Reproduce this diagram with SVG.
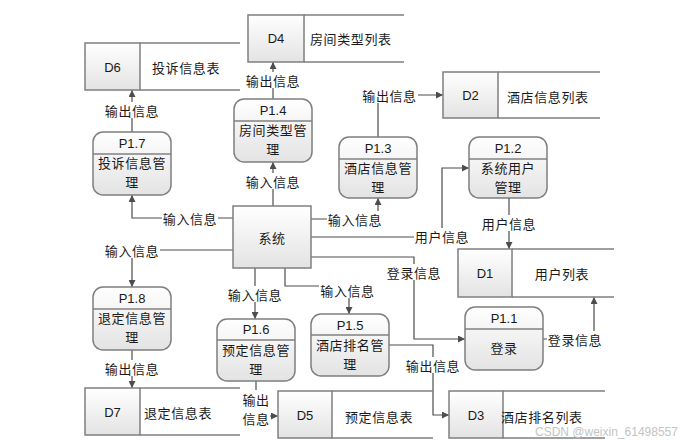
<svg xmlns="http://www.w3.org/2000/svg" width="691" height="446" viewBox="0 0 691 446">
<defs>
<linearGradient id="g" x1="0" y1="0" x2="0" y2="1"><stop offset="0" stop-color="#ffffff"/><stop offset="1" stop-color="#e3e3e3"/></linearGradient>
<marker id="ar" viewBox="0 0 10 10" refX="10" refY="5" markerWidth="7" markerHeight="7" orient="auto" markerUnits="userSpaceOnUse"><path d="M0,0 L10,5 L0,10 z" fill="#4d4d4d"/></marker>
</defs>
<style>
text{font-family:"Liberation Sans","Noto Sans CJK SC",sans-serif;font-size:13px;fill:#1a1a1a;text-anchor:middle;dominant-baseline:central}
.t{font-family:"Noto Sans CJK SC","Liberation Sans",sans-serif;font-size:13px;letter-spacing:0.6px}
.s{text-anchor:start}
.box{fill:url(#g);stroke:#7f7f7f;stroke-width:1.5}
.ln{fill:none;stroke:#808080;stroke-width:1.5}
.c{fill:none;stroke:#4d4d4d;stroke-width:1.2;marker-end:url(#ar)}
.bg{fill:#ffffff}
.wm{font-family:"Liberation Sans",sans-serif;font-size:12px;fill:#c4c4c4;text-anchor:start}
</style>
<rect width="691" height="446" fill="#ffffff"/>

<g id="connectors">
<path class="c" d="M132,132 V90"/>
<path class="c" d="M273,99 V62"/>
<path class="c" d="M378,137 V95 H443"/>
<path class="c" d="M233,218 H132 V195"/>
<path class="c" d="M273,206 V162"/>
<path class="c" d="M233,250 H132 V287"/>
<path class="c" d="M311,219 H378 V198"/>
<path class="c" d="M311,237 H442 V168 H469"/>
<path class="c" d="M509,198 V249"/>
<path class="c" d="M311,257 H414 V339 H465"/>
<path class="c" d="M255,268 V319"/>
<path class="c" d="M285,268 V286 H349 V314"/>
<path class="c" d="M543,339 H594 V297"/>
<path class="c" d="M132,350 V388"/>
<path class="c" d="M256,381 V416 H278"/>
<path class="c" d="M389,345 H433 V415 H449"/>
<g id="labels">
<rect class="bg" x="104" y="102" width="56" height="16"/><text class="t" x="132" y="110">输出信息</text>
<rect class="bg" x="245" y="72" width="56" height="16"/><text class="t" x="273" y="80">输出信息</text>
<rect class="bg" x="361" y="87" width="57" height="16"/><text class="t" x="389.5" y="95">输出信息</text>
<rect class="bg" x="162" y="210" width="56" height="16"/><text class="t" x="190" y="218">输入信息</text>
<rect class="bg" x="245" y="173" width="56" height="16"/><text class="t" x="273" y="181">输入信息</text>
<rect class="bg" x="104" y="242" width="56" height="16"/><text class="t" x="132" y="250">输入信息</text>
<rect class="bg" x="327" y="211" width="56" height="16"/><text class="t" x="355" y="219">输入信息</text>
<rect class="bg" x="414" y="228" width="56" height="16"/><text class="t" x="442" y="236">用户信息</text>
<rect class="bg" x="481" y="215" width="56" height="16"/><text class="t" x="509" y="223">用户信息</text>
<rect class="bg" x="386" y="264" width="56" height="16"/><text class="t" x="414" y="272">登录信息</text>
<rect class="bg" x="227" y="286" width="56" height="16"/><text class="t" x="255" y="294">输入信息</text>
<rect class="bg" x="319" y="282" width="57" height="16"/><text class="t" x="347.5" y="290">输入信息</text>
<rect class="bg" x="547" y="331" width="56" height="16"/><text class="t" x="575" y="339">登录信息</text>
<rect class="bg" x="104" y="360" width="56" height="16"/><text class="t" x="132" y="368">输出信息</text>
<rect class="bg" x="242" y="390" width="28" height="38"/><text class="t" x="256" y="399">输出</text><text class="t" x="256" y="418.5">信息</text>
<rect class="bg" x="405" y="357" width="56" height="16"/><text class="t" x="433" y="365">输出信息</text>
</g>
</g>

<g id="D6"><path class="ln" d="M140,43 H240 M140,90 H240"/><rect class="box" x="85" y="43" width="55" height="47"/><text x="112.5" y="67">D6</text><text class="t s" x="152" y="67">投诉信息表</text></g>
<g id="D4"><path class="ln" d="M304,15 H404 M304,62 H404"/><rect class="box" x="248" y="15" width="56" height="47"/><text x="276" y="38.5">D4</text><text class="t s" x="310" y="38">房间类型列表</text></g>
<g id="D2"><path class="ln" d="M498,72 H600 M498,118 H600"/><rect class="box" x="443" y="72" width="55" height="46"/><text x="470.5" y="95">D2</text><text class="t s" x="507" y="96">酒店信息列表</text></g>
<g id="D1"><path class="ln" d="M512,249 H614 M512,297 H614"/><rect class="box" x="458" y="249" width="54" height="48"/><text x="485" y="273">D1</text><text class="t" x="562" y="273">用户列表</text></g>
<g id="D7"><path class="ln" d="M140,388 H240 M140,435 H240"/><rect class="box" x="85" y="388" width="55" height="47"/><text x="112.5" y="412">D7</text><text class="t s" x="144" y="412">退定信息表</text></g>
<g id="D5"><path class="ln" d="M332,391 H433 M332,438 H433"/><rect class="box" x="278" y="391" width="54" height="47"/><text x="305" y="415">D5</text><text class="t s" x="345" y="416">预定信息表</text></g>
<g id="D3"><path class="ln" d="M503,391 H605 M503,438 H605"/><rect class="box" x="449" y="391" width="54" height="47"/><text x="476" y="415">D3</text><text class="t s" x="501" y="416">酒店排名列表</text></g>

<g id="sys"><rect class="box" x="233" y="206" width="78" height="62"/><text class="t" x="272" y="237">系统</text></g>

<g id="P1.7"><rect class="box" x="93" y="132" width="78" height="63" rx="10"/><path class="ln" d="M93,154 H171"/><text x="132" y="143">P1.7</text><text class="t" x="132" y="162.5">投诉信息管</text><text class="t" x="132" y="181.5">理</text></g>
<g id="P1.4"><rect class="box" x="234" y="99" width="78" height="63" rx="10"/><path class="ln" d="M234,121 H312"/><text x="273" y="110">P1.4</text><text class="t" x="273" y="129">房间类型管</text><text class="t" x="273" y="148">理</text></g>
<g id="P1.3"><rect class="box" x="339" y="137" width="78" height="61" rx="10"/><path class="ln" d="M339,159 H417"/><text x="378" y="148">P1.3</text><text class="t" x="378" y="167">酒店信息管</text><text class="t" x="378" y="186">理</text></g>
<g id="P1.2"><rect class="box" x="469" y="137" width="78" height="61" rx="10"/><path class="ln" d="M469,159 H547"/><text x="508" y="148">P1.2</text><text class="t" x="508" y="167">系统用户</text><text class="t" x="508" y="186">管理</text></g>
<g id="P1.8"><rect class="box" x="93" y="287" width="78" height="63" rx="10"/><path class="ln" d="M93,309 H171"/><text x="132" y="298">P1.8</text><text class="t" x="132" y="317.5">退定信息管</text><text class="t" x="132" y="336.5">理</text></g>
<g id="P1.6"><rect class="box" x="217" y="319" width="78" height="62" rx="10"/><path class="ln" d="M217,340 H295"/><text x="256" y="329">P1.6</text><text class="t" x="256" y="349">预定信息管</text><text class="t" x="256" y="368">理</text></g>
<g id="P1.5"><rect class="box" x="311" y="314" width="78" height="62" rx="10"/><path class="ln" d="M311,335 H389"/><text x="350" y="325">P1.5</text><text class="t" x="350" y="344.5">酒店排名管</text><text class="t" x="350" y="363.5">理</text></g>
<g id="P1.1"><rect class="box" x="465" y="307" width="78" height="63" rx="10"/><path class="ln" d="M465,329 H543"/><text x="504" y="318">P1.1</text><text class="t" x="504" y="347">登录</text></g>

<text class="wm" x="535" y="432">CSDN @weixin_61498557</text>
</svg>
